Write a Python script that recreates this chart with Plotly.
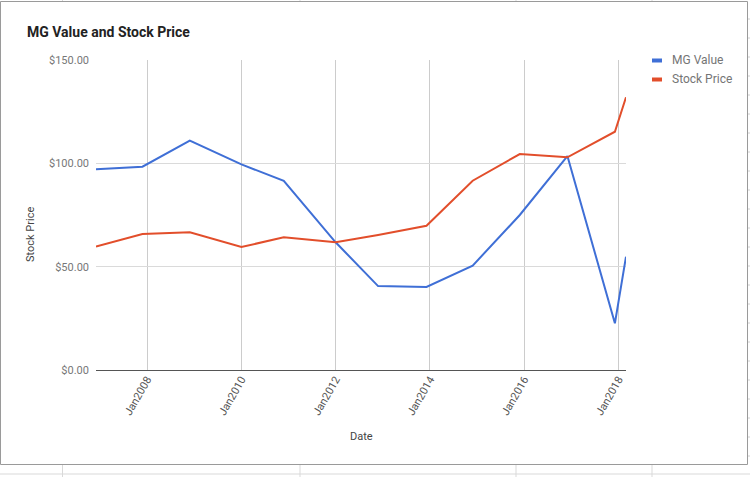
import plotly.graph_objects as go

dates = ["2006-12-01", "2007-11-26", "2008-11-27", "2010-01-01", "2010-11-25",
         "2012-01-01", "2012-11-25", "2013-12-05", "2014-11-28", "2015-11-28",
         "2016-12-01", "2017-12-04", "2018-02-28"]
mg_value = [97.1, 98.4, 111.0, 99.5, 91.5, 61.8, 40.6, 40.2, 50.5, 75.0, 103.5, 22.6, 54.8]
stock_price = [59.7, 65.8, 66.6, 59.5, 64.2, 61.8, 65.3, 69.8, 91.6, 104.5, 102.9, 115.3, 132.0]
x_tickvals = ["2008-01-01", "2010-01-01", "2012-01-01", "2014-01-01", "2016-01-01", "2018-01-01"]
y_tickvals = [0, 50, 100, 150]
y_ticktext = ["$0.00", "$50.00", "$100.00", "$150.00"]
series_names = ["MG Value", "Stock Price"]
colors = ["#3f6fd6", "#e24e2b"]

W, H = 750, 477
L, R, T, B = 96, 626, 60, 370


def px(p):
    return (p - L) / (R - L)


def py(p):
    return (B - p) / (B - T)


fig = go.Figure()
for name, vals, c in zip(series_names, [mg_value, stock_price], colors):
    fig.add_trace(go.Scatter(x=dates, y=vals, mode="lines", name=name,
                             line=dict(color=c, width=2), showlegend=False,
                             cliponaxis=True))

annotations = [
    dict(text="<b>MG Value and Stock Price</b>", x=px(25), y=py(32), xref="paper", yref="paper",
         xanchor="left", yanchor="middle", showarrow=False,
         font=dict(family="Roboto", size=14, color="#222222")),
    dict(text="Stock Price", x=px(31), y=py(235), xref="paper", yref="paper",
         xanchor="center", yanchor="middle", textangle=-90, showarrow=False,
         font=dict(family="Roboto", size=11, color="#444444")),
    dict(text="Date", x=px(361), y=py(436), xref="paper", yref="paper",
         xanchor="center", yanchor="middle", showarrow=False,
         font=dict(family="Roboto", size=11, color="#444444")),
]
shapes = []
for i, (name, c) in enumerate(zip(series_names, colors)):
    yc = 60.5 + i * 19
    shapes.append(dict(type="rect", xref="paper", yref="paper", x0=px(652), x1=px(662),
                       y0=py(yc - 2), y1=py(yc + 2), fillcolor=c, line=dict(width=0)))
    annotations.append(dict(text=name, x=px(670), y=py(yc), xref="paper", yref="paper",
                            xanchor="left", yanchor="middle", showarrow=False,
                            font=dict(family="Roboto", size=12, color="#757575")))

# card border and surrounding sheet lines
shapes.append(dict(type="rect", xref="paper", yref="paper", x0=px(0.5), x1=px(747.5),
                   y0=py(1.5), y1=py(464.5), line=dict(color="#9a9a9a", width=1),
                   fillcolor="rgba(0,0,0,0)", layer="below"))
shapes.append(dict(type="line", xref="paper", yref="paper", x0=px(0), x1=px(750),
                   y0=py(474), y1=py(474), line=dict(color="#d9d9d9", width=1)))
for tx in [62.5, 300, 516, 652]:
    shapes.append(dict(type="line", xref="paper", yref="paper", x0=px(tx), x1=px(tx),
                       y0=py(465), y1=py(477), line=dict(color="#d9d9d9", width=1)))
    shapes.append(dict(type="line", xref="paper", yref="paper", x0=px(tx), x1=px(tx),
                       y0=py(0), y1=py(1), line=dict(color="#d9d9d9", width=1)))
for k in range(1, 25):
    ty = k * 19
    if ty < 464:
        shapes.append(dict(type="line", xref="paper", yref="paper", x0=px(748), x1=px(750),
                           y0=py(ty), y1=py(ty), line=dict(color="#d0d0d0", width=1)))

fig.update_layout(
    width=W, height=H,
    margin=dict(l=L, r=W - R, t=T, b=H - B, pad=0),
    paper_bgcolor="white", plot_bgcolor="white",
    font=dict(family="Roboto", size=11, color="#666666"),
    annotations=annotations, shapes=shapes, hovermode=False,
    xaxis=dict(type="date", range=[dates[0], dates[-1]], tickvals=x_tickvals,
               tickformat="%b%Y", tickangle=-60, showgrid=True, gridcolor="#cccccc",
               gridwidth=1, showline=False, zeroline=False, ticks="",
               tickfont=dict(family="Roboto", size=11, color="#555555")),
    yaxis=dict(range=[0, 150], tickvals=y_tickvals, ticktext=y_ticktext,
               showgrid=True, gridcolor="#dadada", gridwidth=1.5,
               zeroline=True, zerolinecolor="#555555", zerolinewidth=1,
               showline=False, ticks="", ticklabelstandoff=6,
               tickfont=dict(family="Roboto", size=11, color="#777777")),
)

fig.write_html("out.html", config={"displayModeBar": False, "staticPlot": True})

with open("out.html", "r", encoding="utf-8") as f:
    html = f.read()
html = html.replace("<body>", '<body style="margin:0;padding:0;overflow:hidden">', 1)
html = html.replace("<head>", '<head><style>html,body{margin:0;padding:0;}</style>', 1)
with open("out.html", "w", encoding="utf-8") as f:
    f.write(html)
